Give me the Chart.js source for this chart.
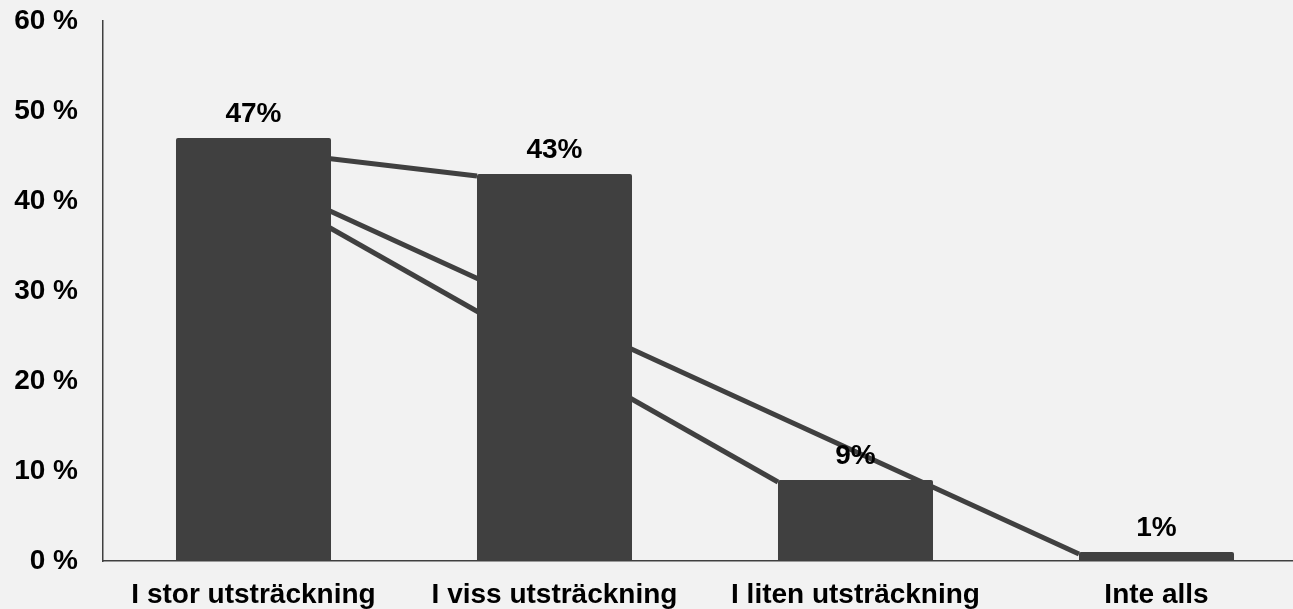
<html>
  <head>
    <style>
      html, body { margin: 0; padding: 0; background: #f2f2f2; overflow: hidden; }
      #wrap { width: 1307px; height: 609px; }
    </style>
  </head>
  <body>
    <div id="wrap">
      <canvas id="myChart" width="1307" height="609"></canvas>
    </div>
  </body>
</html>

<script src="https://cdn.jsdelivr.net/npm/chart.js"></script>
<script>
  let categories = ['I stor utsträckning', 'I viss utsträckning', 'I liten utsträckning', 'Inte alls'];
  let shares = [47, 43, 9, 1];
  let yTicks = [0, 10, 20, 30, 40, 50, 60];

  let barColor = '#404040';
  let labelFont = { family: 'Liberation Sans, Arial, sans-serif', size: 28, weight: 'bold' };

  // lines from the first bar's top-left corner to every other bar's top-left corner
  let cornerLines = {
    id: 'cornerLines',
    beforeDatasetsDraw(chart) {
      let bars = chart.getDatasetMeta(0).data;
      if (!bars.length) return;
      let ctx = chart.ctx;
      let x0 = bars[0].x - bars[0].width / 2;
      let y0 = bars[0].y + 2.5;
      ctx.save();
      // keep the stroke ends from poking out past the first bar
      ctx.beginPath();
      ctx.rect(x0 + 1, y0 - 1, chart.width, chart.height);
      ctx.clip();
      ctx.strokeStyle = barColor;
      ctx.lineWidth = 5;
      for (let i = 1; i < bars.length; i++) {
        ctx.beginPath();
        ctx.moveTo(x0, y0);
        ctx.lineTo(bars[i].x - bars[i].width / 2, bars[i].y + 2);
        ctx.stroke();
      }
      ctx.restore();
    }
  };

  // value labels above the bars
  let valueLabels = {
    id: 'valueLabels',
    afterDatasetsDraw(chart) {
      let ctx = chart.ctx;
      let bars = chart.getDatasetMeta(0).data;
      ctx.save();
      ctx.fillStyle = '#000';
      ctx.font = 'bold 28px "Liberation Sans", Arial, sans-serif';
      ctx.textAlign = 'center';
      ctx.textBaseline = 'middle';
      bars.forEach(function(bar, i) {
        ctx.fillText(shares[i] + '%', bar.x, bar.y - 24);
      });
      ctx.restore();
    }
  };

  let data = {
    labels: categories,
    datasets: [{
      label: 'Andel',
      data: shares,
      backgroundColor: barColor,
      borderRadius: 2,
      borderSkipped: 'bottom',
      barPercentage: 0.515,
      categoryPercentage: 1
    }]
  };

  let config = {
    type: 'bar',
    data: data,
    options: {
      responsive: false,
      animation: false,
      layout: { padding: 0 },
      plugins: {
        legend: { display: false },
        tooltip: { enabled: false }
      },
      scales: {
        x: {
          grid: { display: false, drawTicks: false },
          border: { display: true, color: '#404040', width: 1.5 },
          ticks: { color: '#000', font: labelFont, padding: 17, maxRotation: 0 },
          afterFit: function(s) { s.height = 48; }
        },
        y: {
          min: yTicks[0],
          max: yTicks[yTicks.length - 1],
          afterBuildTicks: function(s) { s.ticks = yTicks.map(function(v) { return { value: v }; }); },
          grid: { display: false, drawTicks: false },
          border: { display: true, color: '#404040', width: 1.5 },
          ticks: {
            color: '#000',
            font: labelFont,
            padding: 25,
            callback: function(v) { return v + ' %'; }
          },
          afterFit: function(s) {
            s.width = 103;
            s.paddingTop = 21;
            s.paddingBottom = 0;
          }
        }
      }
    },
    plugins: [cornerLines, valueLabels]
  };

  let myChart = new Chart(document.getElementById('myChart'), config);
</script>
